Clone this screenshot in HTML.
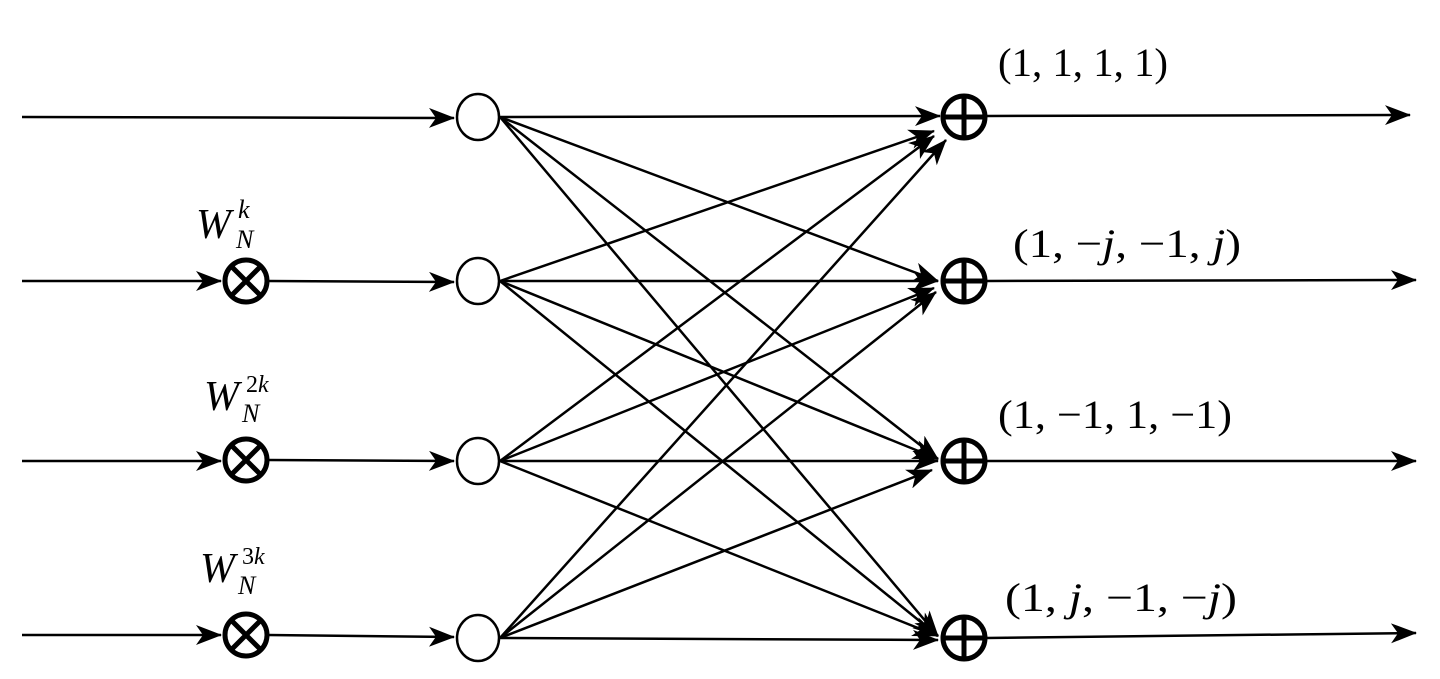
<!DOCTYPE html>
<html><head><style>body{margin:0;background:#fff}</style></head><body>
<svg width="1440" height="674" viewBox="0 0 1440 674" xmlns="http://www.w3.org/2000/svg">
<defs>
<marker id="b" markerWidth="26" markerHeight="20" refX="25" refY="10" orient="auto" markerUnits="userSpaceOnUse"><path d="M0,0 L26,10 L0,20 L7,10 Z" fill="#000"/></marker></defs>
<g stroke="#000" stroke-width="2.5" fill="none">
<line x1="22" y1="117" x2="454" y2="118" marker-end="url(#b)"/>
<line x1="22" y1="281" x2="221" y2="281" marker-end="url(#b)"/>
<line x1="22" y1="461" x2="221" y2="461" marker-end="url(#b)"/>
<line x1="22" y1="635" x2="221" y2="635" marker-end="url(#b)"/>
<line x1="268" y1="281" x2="454" y2="282" marker-end="url(#b)"/>
<line x1="268" y1="460" x2="454" y2="461" marker-end="url(#b)"/>
<line x1="268" y1="635" x2="454" y2="637" marker-end="url(#b)"/>
<g marker-end="url(#b)">
<line x1="500" y1="117" x2="940" y2="116"/>
<line x1="500" y1="117" x2="938" y2="281"/>
<line x1="500" y1="117" x2="938" y2="459"/>
<line x1="500" y1="117" x2="938" y2="636"/>
<line x1="500" y1="281" x2="934" y2="131"/>
<line x1="500" y1="281" x2="938" y2="281"/>
<line x1="500" y1="281" x2="938" y2="459"/>
<line x1="500" y1="281" x2="938" y2="636"/>
<line x1="500" y1="461" x2="934" y2="136"/>
<line x1="500" y1="461" x2="934" y2="288"/>
<line x1="500" y1="461" x2="938" y2="461"/>
<line x1="500" y1="461" x2="938" y2="636"/>
<line x1="500" y1="638" x2="946" y2="140"/>
<line x1="500" y1="638" x2="936" y2="292"/>
<line x1="500" y1="638" x2="932" y2="470"/>
<line x1="500" y1="638" x2="938" y2="640"/>
<line x1="986" y1="116" x2="1410" y2="115"/>
<line x1="986" y1="281" x2="1416" y2="280"/>
<line x1="986" y1="461" x2="1416" y2="461"/>
<line x1="986" y1="638" x2="1416" y2="633"/>
</g>
</g>
<g stroke="#000" stroke-width="2.5" fill="#fff">
<ellipse cx="478" cy="117" rx="21" ry="23"/>
<ellipse cx="478" cy="281" rx="21" ry="23"/>
<ellipse cx="478" cy="461" rx="21" ry="23"/>
<ellipse cx="478" cy="638" rx="21" ry="23"/>
</g>
<g stroke="#000" stroke-width="5" fill="#fff">
<circle cx="964" cy="117" r="21"/><path d="M964 96V138M943 117H985"/>
<circle cx="964" cy="281" r="21"/><path d="M964 260V302M943 281H985"/>
<circle cx="964" cy="461" r="21"/><path d="M964 440V482M943 461H985"/>
<circle cx="964" cy="638" r="21"/><path d="M964 617V659M943 638H985"/>
<circle cx="246" cy="281" r="21"/><path d="M231 266L261 296M261 266L231 296"/>
<circle cx="246" cy="460" r="21"/><path d="M231 445L261 475M261 445L231 475"/>
<circle cx="246" cy="635" r="21"/><path d="M231 620L261 650M261 620L231 650"/>
</g>
<g font-family="Liberation Serif, serif" font-size="40" fill="#000">
<text x="998" y="76" textLength="170" lengthAdjust="spacingAndGlyphs">(1, 1, 1, 1)</text>
<text x="1013" y="257" textLength="228" lengthAdjust="spacingAndGlyphs">(1, −<tspan font-style="italic">j</tspan>, −1, <tspan font-style="italic">j</tspan>)</text>
<text x="998" y="428" textLength="234" lengthAdjust="spacingAndGlyphs">(1, −1, 1, −1)</text>
<text x="1005" y="611" textLength="232" lengthAdjust="spacingAndGlyphs">(1, <tspan font-style="italic">j</tspan>, −1, −<tspan font-style="italic">j</tspan>)</text>
<g font-style="italic">
<text x="196" y="238" font-size="42">W</text><text x="238" y="218" font-size="26">k</text><text x="236" y="248" font-size="26">N</text>
<text x="204" y="410" font-size="42">W</text><text x="246" y="392" font-size="24" font-style="normal">2<tspan font-style="italic">k</tspan></text><text x="242" y="422" font-size="26">N</text>
<text x="200" y="582" font-size="42">W</text><text x="242" y="564" font-size="24" font-style="normal">3<tspan font-style="italic">k</tspan></text><text x="238" y="594" font-size="26">N</text>
</g>
</g>
</svg>
</body></html>
